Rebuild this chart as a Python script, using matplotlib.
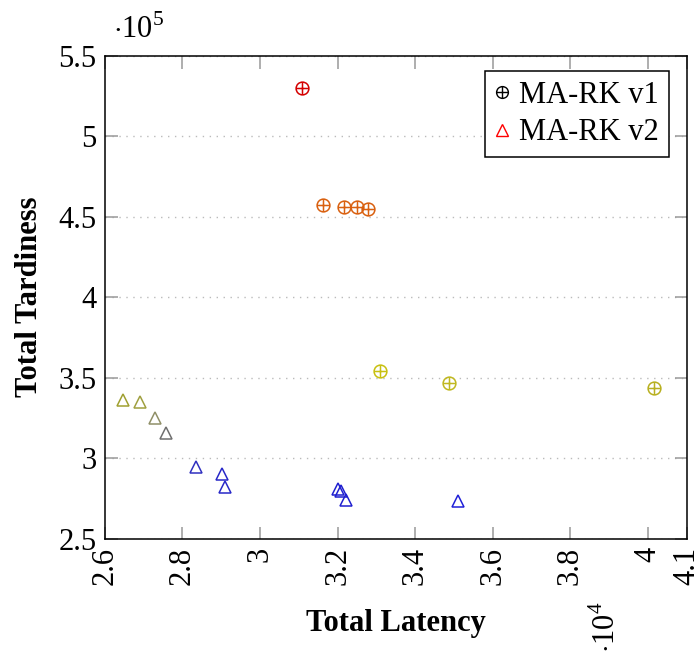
import matplotlib
matplotlib.use("Agg")
import matplotlib.pyplot as plt
from matplotlib.path import Path
from matplotlib.lines import Line2D

plt.rcParams['font.family'] = ['Liberation Serif', 'DejaVu Serif']
plt.rcParams['mathtext.fontset'] = 'custom'
plt.rcParams['mathtext.rm'] = 'Liberation Serif'

# Data (x in units of 1e4, y in units of 1e5)
v1_latency = [3.109, 3.163, 3.217, 3.250, 3.278, 3.310, 3.486, 4.015]
v1_tardiness = [5.30, 4.573, 4.561, 4.559, 4.547, 3.539, 3.468, 3.437]
v1_colors = ['#d40000', '#d9600f', '#d9600f', '#d9600f', '#d9600f',
             '#c8c010', '#c0b820', '#b8b020']

v2_latency = [2.648, 2.692, 2.729, 2.758, 2.835, 2.903, 2.909, 3.202, 3.210, 3.223, 3.510]
v2_tardiness = [3.360, 3.350, 3.248, 3.158, 2.942, 2.898, 2.818, 2.806, 2.792, 2.738, 2.735]
v2_colors = ['#a0a030', '#a0a040', '#909068', '#707070', '#3030c0', '#2828c8',
             '#2828c8', '#2020d0', '#2020d0', '#2020d0', '#2020d8']

x_ticks = [2.6, 2.8, 3.0, 3.2, 3.4, 3.6, 3.8, 4.0, 4.1]
x_ticklabels = ['2.6', '2.8', '3', '3.2', '3.4', '3.6', '3.8', '4', '4.1']
y_ticks = [2.5, 3.0, 3.5, 4.0, 4.5, 5.0, 5.5]
y_ticklabels = ['2.5', '3', '3.5', '4', '4.5', '5', '5.5']

series_names = ['MA-RK v1', 'MA-RK v2']

# circle with plus marker
circ = Path.unit_circle()
hline = Path([(-1, 0), (1, 0)], [Path.MOVETO, Path.LINETO])
vline = Path([(0, -1), (0, 1)], [Path.MOVETO, Path.LINETO])
oplus = Path.make_compound_path(circ, hline, vline)

fig = plt.figure(figsize=(6.95, 6.64), dpi=100)
ax = fig.add_axes([0.1507, 0.189, 0.8375, 0.7274])

for x, y, c in zip(v1_latency, v1_tardiness, v1_colors):
    ax.plot([x], [y], linestyle='none', marker=oplus, markersize=9.2,
            markerfacecolor='none', markeredgecolor=c, markeredgewidth=1.1)
for x, y, c in zip(v2_latency, v2_tardiness, v2_colors):
    ax.plot([x], [y], linestyle='none', marker='^', markersize=8.5,
            markerfacecolor='none', markeredgecolor=c, markeredgewidth=1.1)

ax.set_xlim(2.6, 4.1)
ax.set_ylim(2.5, 5.5)
ax.set_xticks(x_ticks)
ax.set_xticklabels(x_ticklabels, rotation=90, fontsize=22)
ax.set_yticks(y_ticks)
ax.set_yticklabels(y_ticklabels, fontsize=22)
ax.tick_params(direction='in', length=9, width=1.1, color='#999999',
               top=True, right=True, pad=6)
ax.yaxis.grid(True, linestyle=(0, (1, 4)), color='#bbbbbb', linewidth=1.0)
ax.set_axisbelow(True)
for s in ax.spines.values():
    s.set_linewidth(1.1)

ax.set_xlabel('Total Latency', fontsize=22, fontweight='bold', labelpad=17)
ax.set_ylabel('Total Tardiness', fontsize=22, fontweight='bold', labelpad=10)

fig.text(0.163, 0.955, r'$\cdot 10^5$', fontsize=22, ha='left', va='center')
fig.text(0.873, 0.056, r'$\cdot 10^4$', fontsize=22, ha='center', va='center', rotation=90)

handles = [Line2D([], [], linestyle='none', marker=oplus, markersize=8.5,
                  markerfacecolor='none', markeredgecolor='black', markeredgewidth=1.0),
           Line2D([], [], linestyle='none', marker='^', markersize=8,
                  markerfacecolor='none', markeredgecolor='red', markeredgewidth=1.0)]
leg = ax.legend(handles, series_names, loc='upper right', fontsize=22, frameon=True,
                fancybox=False, edgecolor='black', framealpha=1, handlelength=0.5,
                handletextpad=0.3, borderpad=0.32, labelspacing=0.28,
                borderaxespad=0, bbox_to_anchor=(0.969, 0.968))
leg.get_frame().set_linewidth(1.1)

fig.savefig('out.png', dpi=100)
